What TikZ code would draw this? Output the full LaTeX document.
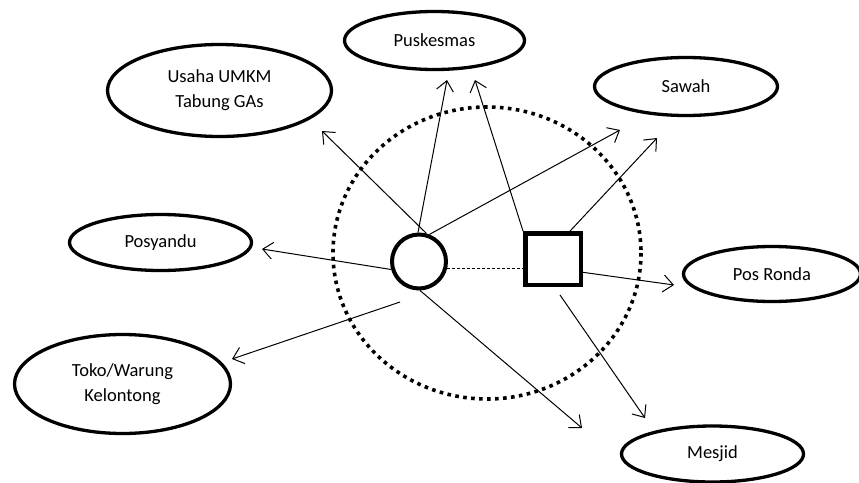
\documentclass[tikz,border=0pt]{standalone}
\usepackage{fontspec}
\setmainfont{Carlito}
\usetikzlibrary{shapes.geometric,arrows.meta,calc}
\tikzset{
  oval/.style={ellipse, draw, line width=3.3pt, inner sep=0pt, align=center,
    font=\fontsize{18.5}{25}\selectfont},
  conn/.style={line width=1pt, -{Straight Barb[length=10pt,width=17pt,line width=1pt]}},
}
\begin{document}
\begin{tikzpicture}[x=1pt,y=-1pt]
\useasboundingbox (0,0) rectangle (859,482);
% dotted boundary
\draw[line width=3.6pt, dash pattern=on 3.6pt off 4.4pt] (487,253) ellipse [x radius=154, y radius=146];
% ellipses
\node[oval, minimum width=180, minimum height=58] (pusk) at (434.5,40.5) {Puskesmas};
\node[oval, minimum width=224, minimum height=92] (usaha) at (219.5,90.5) {Usaha UMKM\\Tabung GAs};
\node[oval, minimum width=183, minimum height=58] (sawah) at (686,86.5) {Sawah};
\node[oval, minimum width=182, minimum height=56] (posy) at (160.5,242.5) {Posyandu};
\node[oval, minimum width=177, minimum height=55] (ronda) at (772,274) {Pos Ronda};
\node[oval, minimum width=216, minimum height=99] (toko) at (122.5,384) {Toko/Warung\\Kelontong};
\node[oval, minimum width=182, minimum height=56] (mesjid) at (712.5,454) {Mesjid};
% central actors
\node[circle, draw, line width=4pt, minimum size=54, inner sep=0pt] (c) at (419,261.5) {};
\node[rectangle, draw, line width=4.5pt, minimum width=55.5, minimum height=51.5, inner sep=0pt] (s) at (553,259) {};
% tips and free ends
\coordinate (tU) at (322,131);
\coordinate (tPc) at (447,80);
\coordinate (tPs) at (475,80);
\coordinate (tSc) at (620,130);
\coordinate (tSs) at (657,138);
\coordinate (tPo) at (262,249);
\coordinate (tT) at (232,359);
\coordinate (tMc) at (582,428);
\coordinate (tMs) at (645,418);
\coordinate (tR) at (674,285);
\coordinate (fT) at (400,302);
\coordinate (fM) at (560,295);
\coordinate (sS) at (568,233.25);
\coordinate (sR) at (580.75,272);
% dashed link
\draw[line width=1.2pt, dash pattern=on 3pt off 2pt] (c.-14) -- (c.-14 -| s.west);
% arrows from circle
\draw[conn] (c.75) -- (tU);
\draw[conn] (c.92) -- (tPc);
\draw[conn] (c.69) -- (tSc);
\draw[conn] (c.196) -- (tPo);
\draw[conn] (fT) -- (tT);
\draw[conn] (c.-88) -- (tMc);
% arrows from square
\draw[conn] (s.north west) -- (tPs);
\draw[conn] (sS) -- (tSs);
\draw[conn] (sR) -- (tR);
\draw[conn] (fM) -- (tMs);
\end{tikzpicture}
\end{document}
